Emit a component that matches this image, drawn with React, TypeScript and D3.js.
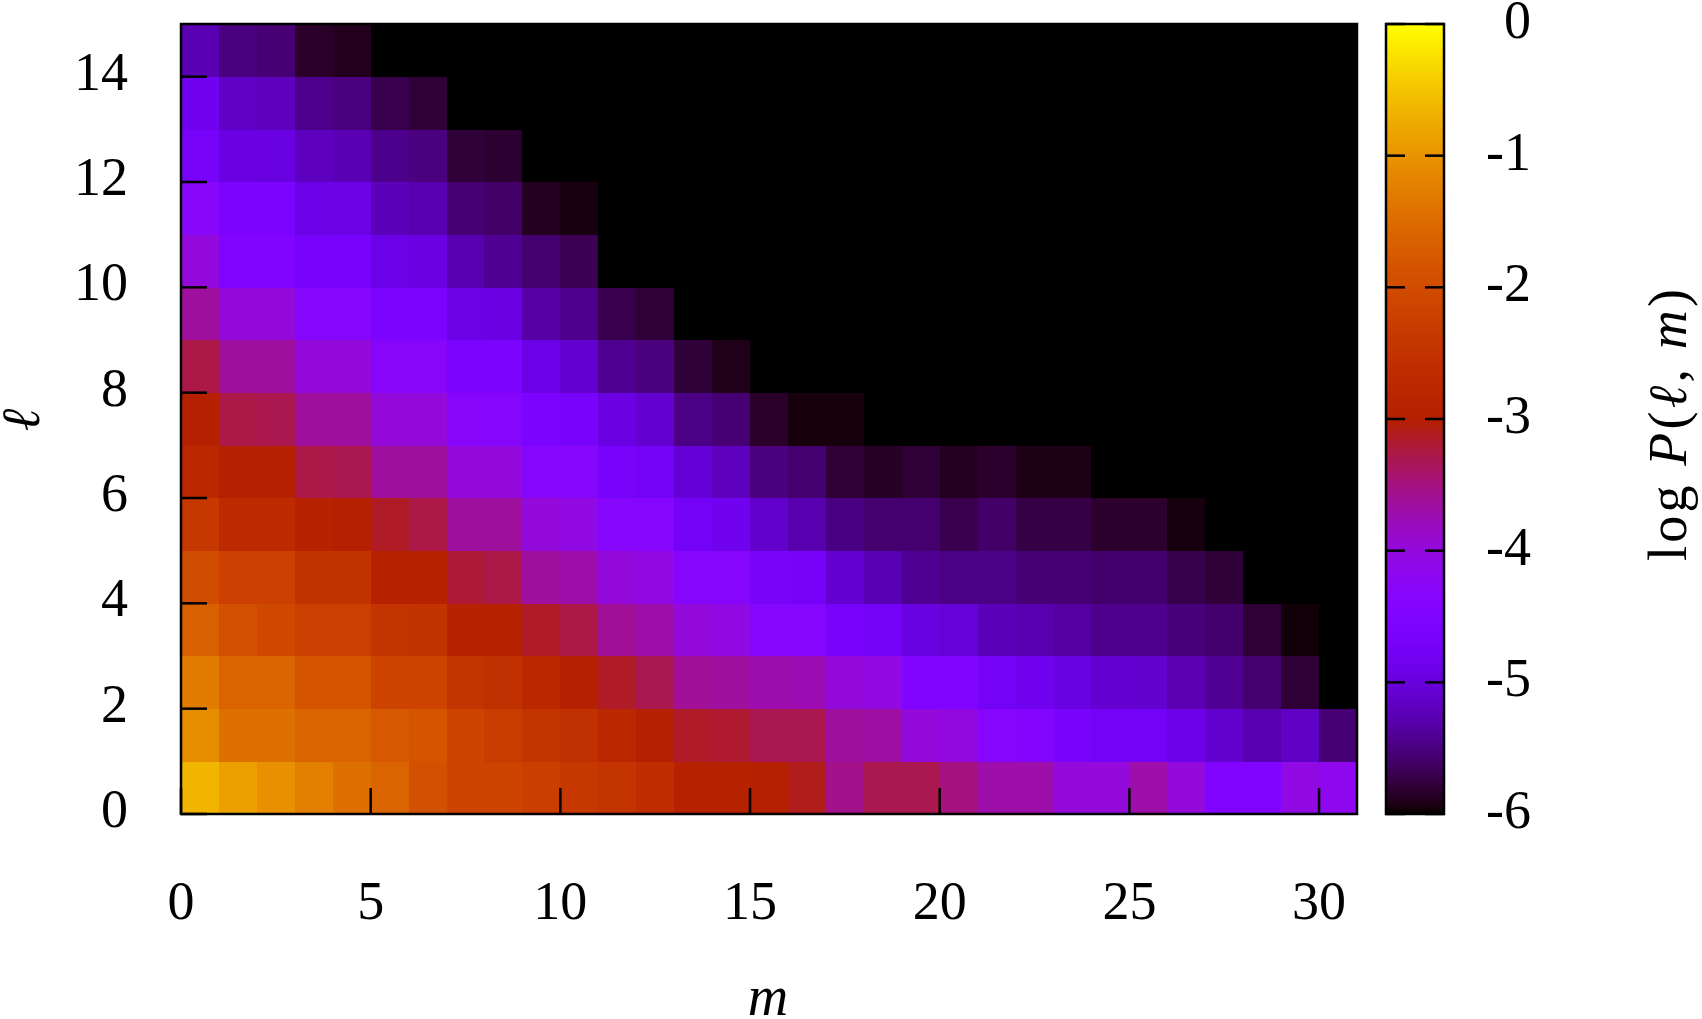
import React from 'react';
import * as d3 from 'd3';

// m categories (columns) and axis ticks
const mCategories = [0, 1, 2, 3, 4, 5, 6, 7, 8, 9, 10, 11, 12, 13, 14, 15, 16, 17, 18, 19, 20, 21, 22, 23, 24, 25, 26, 27, 28, 29, 30];
const lCategories = [0, 1, 2, 3, 4, 5, 6, 7, 8, 9, 10, 11, 12, 13, 14];
const xTickValues = [0, 5, 10, 15, 20, 25, 30];
const yTickValues = [0, 2, 4, 6, 8, 10, 12, 14];
const cbTickValues = [0, -1, -2, -3, -4, -5, -6];

// log P(l, m) for each row l; missing entries are below the colour range (black)
const logP_l0 = [-0.65, -0.86, -1.04, -1.23, -1.44, -1.61, -1.93, -2.14, -2.14, -2.25, -2.38, -2.46, -2.65, -2.93, -2.95, -3.0, -3.1, -3.55, -3.3, -3.3, -3.5, -3.7, -3.7, -3.98, -3.98, -3.7, -3.98, -4.5, -4.5, -4.05, -4.15];
const logP_l1 = [-1.08, -1.44, -1.44, -1.61, -1.61, -1.79, -1.86, -2.14, -2.3, -2.46, -2.55, -2.77, -3.0, -3.15, -3.18, -3.3, -3.3, -3.64, -3.66, -3.98, -4.02, -4.34, -4.42, -4.67, -4.75, -4.75, -4.9, -5.1, -5.28, -5.15, -5.55];
const logP_l2 = [-1.28, -1.61, -1.61, -1.86, -1.86, -2.14, -2.14, -2.46, -2.55, -2.77, -3.0, -3.15, -3.3, -3.6, -3.64, -3.72, -3.75, -3.98, -4.05, -4.5, -4.5, -4.75, -4.84, -4.97, -5.08, -5.1, -5.26, -5.4, -5.57, -5.8];
const logP_l3 = [-1.67, -1.93, -2.06, -2.21, -2.21, -2.46, -2.5, -2.9, -2.93, -3.15, -3.27, -3.6, -3.7, -3.98, -4.05, -4.34, -4.38, -4.67, -4.75, -4.97, -5.03, -5.22, -5.28, -5.35, -5.44, -5.44, -5.52, -5.58, -5.8, -5.97];
const logP_l4 = [-1.99, -2.21, -2.21, -2.5, -2.5, -2.93, -2.93, -3.2, -3.27, -3.64, -3.7, -3.98, -4.05, -4.34, -4.38, -4.7, -4.72, -5.08, -5.25, -5.42, -5.47, -5.47, -5.55, -5.55, -5.58, -5.58, -5.72, -5.79];
const logP_l5 = [-2.38, -2.71, -2.71, -2.9, -2.97, -3.14, -3.27, -3.64, -3.64, -3.98, -4.05, -4.34, -4.38, -4.75, -4.84, -5.12, -5.28, -5.49, -5.57, -5.57, -5.7, -5.6, -5.74, -5.74, -5.83, -5.83, -5.95];
const logP_l6 = [-2.77, -3.0, -3.0, -3.27, -3.3, -3.64, -3.64, -3.98, -3.98, -4.34, -4.34, -4.67, -4.75, -5.05, -5.2, -5.5, -5.57, -5.8, -5.86, -5.8, -5.88, -5.83, -5.92, -5.92];
const logP_l7 = [-3.0, -3.27, -3.3, -3.64, -3.64, -3.98, -3.98, -4.32, -4.34, -4.58, -4.67, -4.95, -5.08, -5.47, -5.55, -5.84, -5.96, -5.96];
const logP_l8 = [-3.27, -3.64, -3.64, -3.98, -3.98, -4.32, -4.32, -4.58, -4.58, -4.92, -5.08, -5.42, -5.5, -5.79, -5.91];
const logP_l9 = [-3.64, -3.98, -3.98, -4.34, -4.34, -4.58, -4.58, -4.93, -4.95, -5.32, -5.44, -5.71, -5.79];
const logP_l10 = [-4.0, -4.5, -4.5, -4.67, -4.67, -4.92, -4.95, -5.28, -5.42, -5.57, -5.68];
const logP_l11 = [-4.3, -4.58, -4.58, -4.92, -4.93, -5.22, -5.28, -5.55, -5.6, -5.88, -5.94];
const logP_l12 = [-4.7, -4.95, -4.97, -5.2, -5.25, -5.45, -5.5, -5.79, -5.82];
const logP_l13 = [-4.84, -5.15, -5.2, -5.44, -5.5, -5.71, -5.79];
const logP_l14 = [-5.25, -5.5, -5.55, -5.84, -5.89];

const logPRows = [logP_l0, logP_l1, logP_l2, logP_l3, logP_l4, logP_l5, logP_l6, logP_l7, logP_l8, logP_l9, logP_l10, logP_l11, logP_l12, logP_l13, logP_l14];

// gnuplot default pm3d palette (rgbformulae 7,5,15)
function palette(t: number): string {
  const x = Math.max(0, Math.min(1, t));
  const r = Math.sqrt(x);
  const g = x * x * x;
  const b = Math.max(0, Math.sin(2 * Math.PI * x));
  return d3.rgb(r * 255, g * 255, b * 255).formatHex();
}

const FONT = "'Liberation Serif', 'DejaVu Serif', serif";

export default function App() {
  const W = 1702;
  const H = 1019;
  const x = d3.scaleLinear().domain([0, 31]).range([181, 1357]);
  const y = d3.scaleLinear().domain([0, 15]).range([814, 24]);
  const cbY = d3.scaleLinear().domain([-6, 0]).range([814, 24]);
  const norm = d3.scaleLinear().domain([-6, 0]).range([0, 1]).clamp(true);
  const color = (v: number | undefined) => (v === undefined || v === null ? '#000000' : palette(norm(v)));

  const cbLeft = 1386;
  const cbRight = 1444;
  const tickLen = 26;
  const cbTickLen = 19;
  const stops = d3.range(0, 1.0001, 1 / 120);

  const cells: React.ReactNode[] = [];
  lCategories.forEach((l) => {
    const row = logPRows[l];
    mCategories.forEach((m) => {
      const v = row[m];
      const x0 = x(m);
      const x1 = x(m + 1);
      const y0 = y(l + 1);
      const y1 = y(l);
      cells.push(
        <rect key={`c-${l}-${m}`} x={x0} y={y0} width={x1 - x0 + 0.4} height={y1 - y0 + 0.4} fill={color(v)} shapeRendering="crispEdges" />
      );
    });
  });

  return (
    <svg width={W} height={H} style={{ position: 'absolute', left: 0, top: 0, display: 'block', background: '#fff' }} fontFamily={FONT}>
      <defs>
        <linearGradient id="cbgrad" x1="0" y1="1" x2="0" y2="0">
          {stops.map((s, i) => (
            <stop key={i} offset={s} stopColor={palette(s)} />
          ))}
        </linearGradient>
      </defs>

      {/* heatmap cells */}
      <g>{cells}</g>

      {/* ticks on main plot */}
      {xTickValues.map((t) => (
        <line key={`xt-${t}`} x1={x(t)} x2={x(t)} y1={y(0)} y2={y(0) - tickLen} stroke="#000" strokeWidth={2.5} />
      ))}
      {yTickValues.map((t) => (
        <line key={`yt-${t}`} x1={x(0)} x2={x(0) + tickLen} y1={y(t)} y2={y(t)} stroke="#000" strokeWidth={2.5} />
      ))}

      {/* border */}
      <rect x={x(0)} y={y(15)} width={x(31) - x(0)} height={y(0) - y(15)} fill="none" stroke="#000" strokeWidth={2.5} />

      {/* tick labels */}
      {xTickValues.map((t) => (
        <text key={`xl-${t}`} x={x(t)} y={919} textAnchor="middle" fontSize={54} fill="#000">
          {t}
        </text>
      ))}
      {yTickValues.map((t) => (
        <text key={`yl-${t}`} x={128} y={y(t) + 13} textAnchor="end" fontSize={54} fill="#000">
          {t}
        </text>
      ))}

      {/* axis labels */}
      <text x={768} y={1015} textAnchor="middle" fontSize={56} fontStyle="italic" fill="#000">
        m
      </text>
      <text transform="translate(39,420) rotate(-90)" textAnchor="middle" fontSize={54} fontStyle="italic" fill="#000" fontFamily="'DejaVu Serif', serif">
        ℓ
      </text>

      {/* colour box */}
      <rect x={cbLeft} y={cbY(0)} width={cbRight - cbLeft} height={cbY(-6) - cbY(0)} fill="url(#cbgrad)" />
      {cbTickValues.map((t) => (
        <g key={`cbt-${t}`}>
          <line x1={cbLeft} x2={cbLeft + cbTickLen} y1={cbY(t)} y2={cbY(t)} stroke="#000" strokeWidth={2.5} />
          <line x1={cbRight} x2={cbRight - cbTickLen} y1={cbY(t)} y2={cbY(t)} stroke="#000" strokeWidth={2.5} />
        </g>
      ))}
      <rect x={cbLeft} y={cbY(0)} width={cbRight - cbLeft} height={cbY(-6) - cbY(0)} fill="none" stroke="#000" strokeWidth={2.5} />
      {cbTickValues.map((t) => (
        <text key={`cbl-${t}`} x={1531} y={cbY(t) + 14} textAnchor="end" fontSize={54} fill="#000">
          {t === 0 ? '0' : `-${Math.abs(t)}`}
        </text>
      ))}

      {/* colour box label */}
      <text transform="translate(1686,425) rotate(-90)" textAnchor="middle" fontSize={54} fill="#000" textLength={272} lengthAdjust="spacing">
        log <tspan fontStyle="italic">P</tspan>(<tspan fontStyle="italic">ℓ</tspan>, <tspan fontStyle="italic">m</tspan>)
      </text>
    </svg>
  );
}
